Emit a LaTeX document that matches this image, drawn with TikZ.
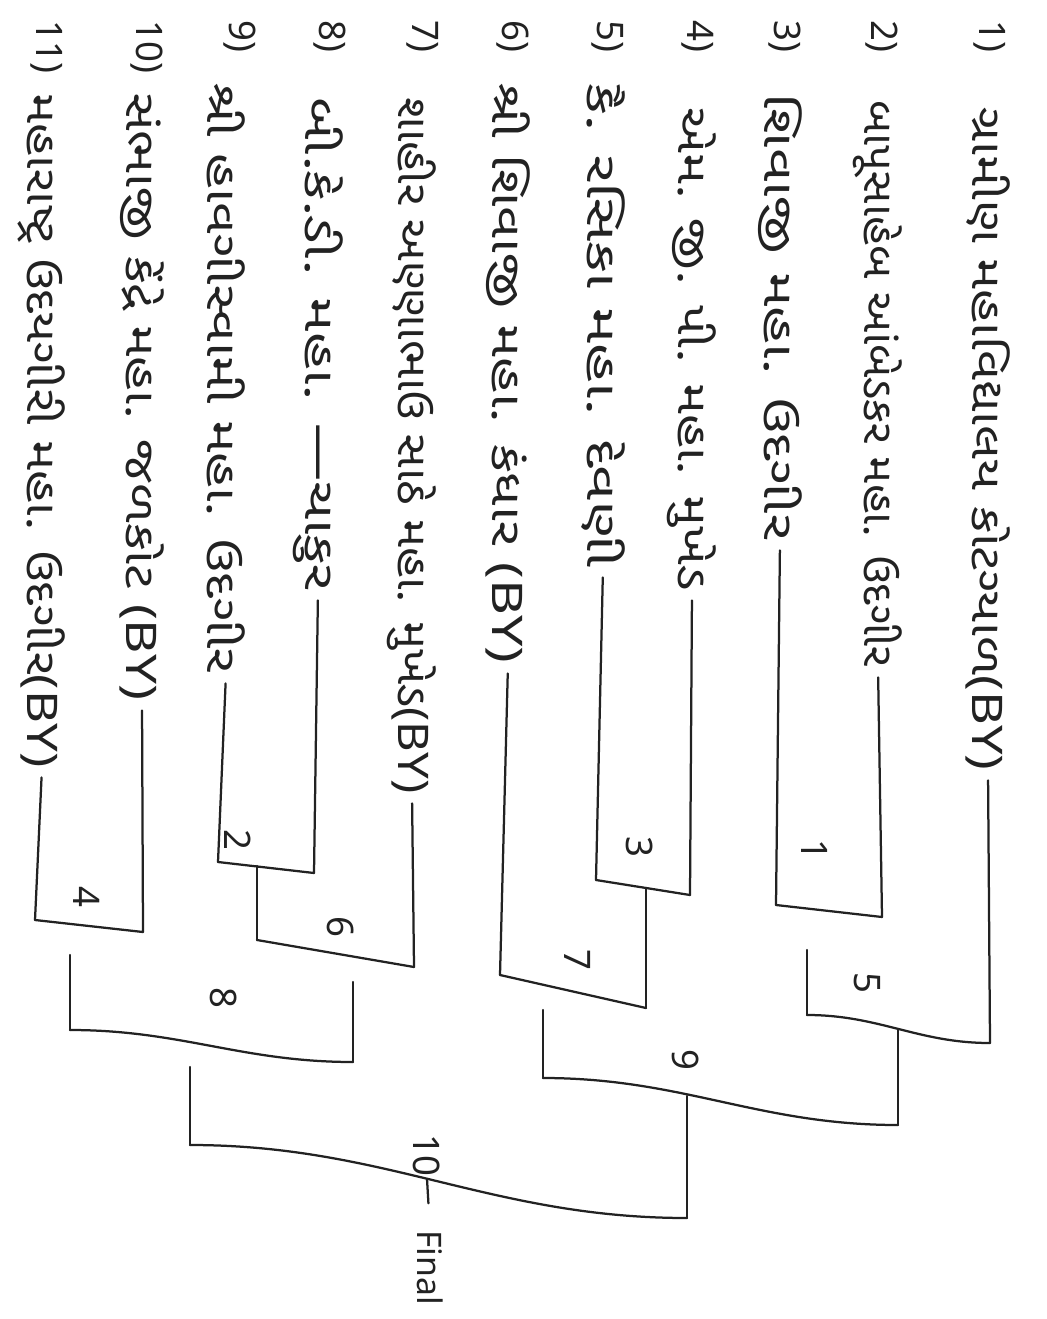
\documentclass[tikz,border=0pt]{standalone}
\usepackage{fontspec}
\setmainfont{Noto Sans}
\newfontfamily\gujfont[Script=Gujarati]{Noto Sans Gujarati UI}
\newfontfamily\latfont{Noto Sans}
\usetikzlibrary{calc}
\definecolor{Ink}{HTML}{222222}
\newdimen\pxu \pxu=0.025cm
\newcommand\fitto[2]{\resizebox{#1\pxu}{\height}{#2}}
\newcommand\lat[1]{{\latfont #1}}

\begin{document}
\begin{tikzpicture}[x=0.025cm,y=-0.025cm,color=Ink,
  team/.style={rotate=-90,anchor=west,inner sep=0pt,font=\gujfont\fontsize{30}{30}\selectfont},
  num/.style={rotate=-90,anchor=west,inner sep=0pt,font=\fontsize{26}{26}\selectfont},
  score/.style={rotate=-90,inner sep=0pt,font=\fontsize{26}{26}\selectfont},
  wire/.style={line width=1.6pt,draw=Ink,line cap=round},
  wave/.style={wire,out=0,in=180}]
 \useasboundingbox[fill=white] (0,0) rectangle (1046,1319);
 % entries
 \node[num] (n1) at (990,20) {1)};
 \node[num] (n2) at (882,20) {2)};
 \node[num] (n3) at (785,20) {3)};
 \node[num] (n4) at (698,20) {4)};
 \node[num] (n5) at (608,20) {5)};
 \node[num] (n6) at (513,20) {6)};
 \node[num] (n7) at (423,20) {7)};
 \node[num] (n8) at (330,20) {8)};
 \node[num] (n9) at (240,20) {9)};
 \node[num] (n10) at (147,20) {10)};
 \node[num] (n11) at (47,20) {11)};
 \node[team] (t1) at (988,107) {\fitto{663}{ગ્રામીણ મહાવિદ્યાલય કોટગ્યાળ\lat{(BY)}}};
 \node[team] (t2) at (878,100) {\fitto{567}{બાપૂસાહેબ આંબેડકર મહા. ઉદગીર}};
 \node[team] (t3) at (780,93) {\fitto{447}{શિવાજી મહા. ઉદગીર}};
 \node[team] (t4) at (692,107) {\fitto{483}{એમ. જી. પી. મહા. મુખેડ}};
 \node[team] (t5) at (603,83) {\fitto{484}{કૈ. રસિકા મહા. દેવણી}};
 \node[team] (t6) at (508,83) {\fitto{580}{શ્રી શિવાજી મહા. કંધાર \lat{(BY)}}};
 \node[team] (t7) at (412,97) {\fitto{696}{શાહીર અણ્ણાભાઉ સાઠે મહા. મુખેડ\lat{(BY)}}};
 \node[team] (t8) at (318,97) {\fitto{493}{બી.કે.ડી. મહા. —ચાકુર}};
 \node[team] (t9) at (226,83) {\fitto{590}{શ્રી હાવગીસ્વામી મહા. ઉદગીર}};
 \node[team] (t10) at (142,93) {\fitto{607}{સંભાજી કેંદ્રે મહા. જળકોટ \lat{(BY)}}};
 \node[team] (t11) at (42,93) {\fitto{674}{મહારાષ્ટ્ર ઉદયગીરી મહા. ઉદગીર\lat{(BY)}}};
 % bracket corners
 \coordinate (b1l) at (776,905); \coordinate (b1r) at (882,917);
 \coordinate (b3l) at (596,880); \coordinate (b3r) at (690,895);
 \coordinate (b2l) at (218,862); \coordinate (b2r) at (314,873);
 \coordinate (b4l) at (35,920); \coordinate (b4r) at (143,932);
 \coordinate (w1) at (807,950); \coordinate (b5l) at (807,1015); \coordinate (b5r) at (990,1043);
 \coordinate (w3) at (646,888); \coordinate (b7l) at (500,975); \coordinate (b7r) at (646,1008);
 \coordinate (w2) at (257,866); \coordinate (b6l) at (257,940); \coordinate (b6r) at (414,967);
 \coordinate (w7) at (543,1010); \coordinate (b9l) at (543,1078);
 \coordinate (w5) at (898,1029); \coordinate (b9r) at (898,1125);
 \coordinate (w4) at (70,955); \coordinate (b8l) at (70,1030);
 \coordinate (w6) at (353,982); \coordinate (b8r) at (353,1062);
 \coordinate (w8) at (190,1067); \coordinate (b10l) at (190,1145);
 \coordinate (w9) at (687,1096); \coordinate (b10r) at (687,1218);
 \coordinate (w10) at (427,1179);
 % first round
 \draw[wire,shorten <=7pt] (t2.east) -- (b1r);
 \draw[wire,shorten <=7pt] (t3.east) -- (b1l);
 \draw[wire] (b1l) -- (b1r);
 \draw[wire,shorten <=7pt] (t4.east) -- (b3r);
 \draw[wire,shorten <=7pt] (t5.east) -- (b3l);
 \draw[wire] (b3l) -- (b3r);
 \draw[wire,shorten <=7pt] (t8.east) -- (b2r);
 \draw[wire,shorten <=7pt] (t9.east) -- (b2l);
 \draw[wire] (b2l) -- (b2r);
 \draw[wire,shorten <=7pt] (t10.east) -- (b4r);
 \draw[wire,shorten <=7pt] (t11.east) -- (b4l);
 \draw[wire] (b4l) -- (b4r);
 % second round
 \draw[wire,shorten <=7pt] (t1.east) -- (b5r);
 \draw[wire] (w1) -- (b5l);
 \draw[wave] (b5l) to (b5r);
 \draw[wire,shorten <=7pt] (t6.east) -- (b7l);
 \draw[wire] (w3) -- (b7r);
 \draw[wire] (b7l) -- (b7r);
 \draw[wire,shorten <=7pt] (t7.east) -- (b6r);
 \draw[wire] (w2) -- (b6l);
 \draw[wire] (b6l) -- (b6r);
 % third round
 \draw[wire] (w7) -- (b9l);
 \draw[wire] (w5) -- (b9r);
 \draw[wave] (b9l) to (b9r);
 \draw[wire] (w4) -- (b8l);
 \draw[wire] (w6) -- (b8r);
 \draw[wave] (b8l) to (b8r);
 % final
 \draw[wire] (w8) -- (b10l);
 \draw[wire] (w9) -- (b10r);
 \draw[wave] (b10l) to (b10r);
 \node[score] (s1) at (815,850) {1};
 \node[score] (s3) at (640,847) {3};
 \node[score] (s2) at (238,840) {2};
 \node[score] (s4) at (87,897) {4};
 \node[score] (s5) at (867,983) {5};
 \node[score] (s7) at (578,960) {7};
 \node[score] (s6) at (341,927) {6};
 \node[score] (s9) at (686,1060) {9};
 \node[score] (s8) at (224,998) {8};
 \node[score] (s10) at (427,1155) {10};
 \node[num,font=\fontsize{24}{24}\selectfont] (fin) at (430,1230) {Final};
 \draw[wire,shorten >=19pt] (w10) -- (fin.west);
\end{tikzpicture}
\end{document}
